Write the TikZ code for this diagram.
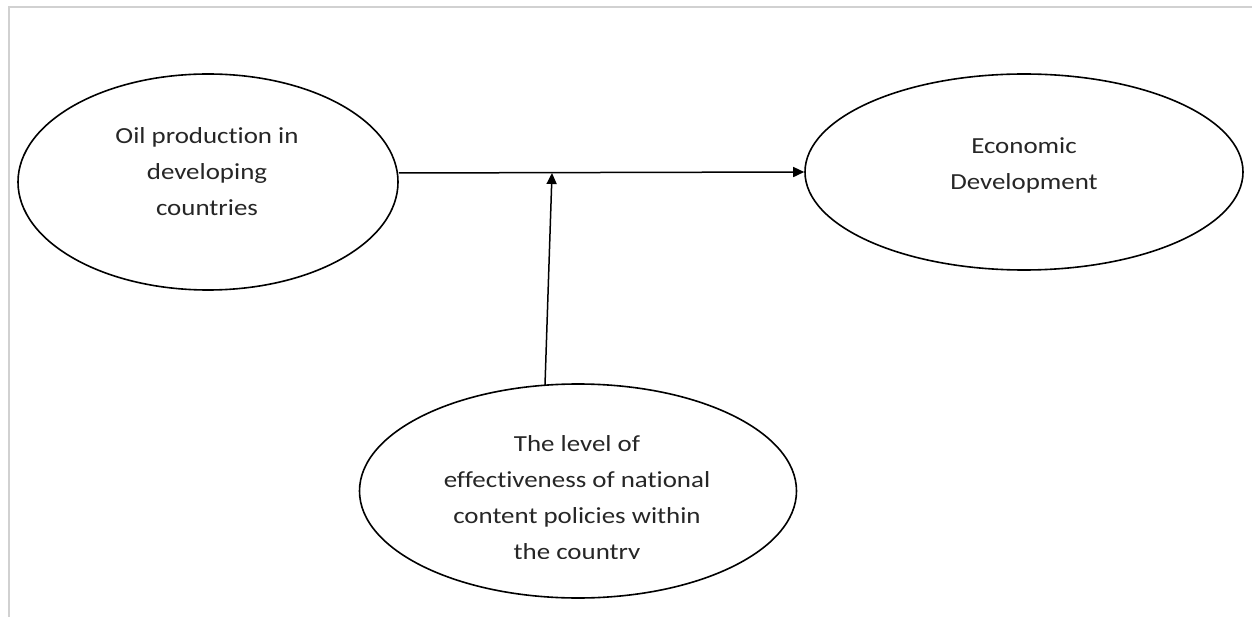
\documentclass[tikz,border=0pt]{standalone}
\usepackage{fontspec}
\setmainfont{Carlito}[FakeStretch=1.17,Ligatures=NoCommon]
\usetikzlibrary{shapes.geometric,arrows.meta}
\begin{document}
\begin{tikzpicture}[x=1pt,y=-1pt,
  oval/.style={draw=black,line width=1.6pt,ellipse,inner sep=0pt},
  lbl/.style={align=center,inner sep=0pt,font=\fontsize{23pt}{36pt}\selectfont,text=black!85},
  link/.style={draw=black,line width=1.5pt,-{Triangle[length=11pt,width=10pt]}},
  frame/.style={draw=black!18,line width=1.6pt}]
\useasboundingbox (0,0) rectangle (1252,617);
\fill[white] (0,0) rectangle (1252,617);
\draw[frame] (9,617) -- (9,7) -- (1252,7);
% ellipses
\node[oval,minimum width=380pt,minimum height=216pt] (o) at (208,182) {};
\node[oval,minimum width=438pt,minimum height=196pt] (e) at (1024,172) {};
\node[oval,minimum width=437pt,minimum height=214pt] (p) at (578,491) {};
% texts
\node[lbl] (ot) at (207,172) {Oil production in\\developing\\countries};
\node[lbl] (et) at (1024,165) {Economic\\Development};
\begin{scope}
\clip (300,380) rectangle (860,558);
\node[lbl] (pt) at (577,499) {The level of\\effectiveness of national\\content policies within\\the country};
\end{scope}
% connectors
\coordinate (j) at (552,173);
\coordinate (jb) at (545,385);
\draw[link] (o.east |- j) -- (e.west);
\draw[link] (jb) -- (j);
\end{tikzpicture}
\end{document}
